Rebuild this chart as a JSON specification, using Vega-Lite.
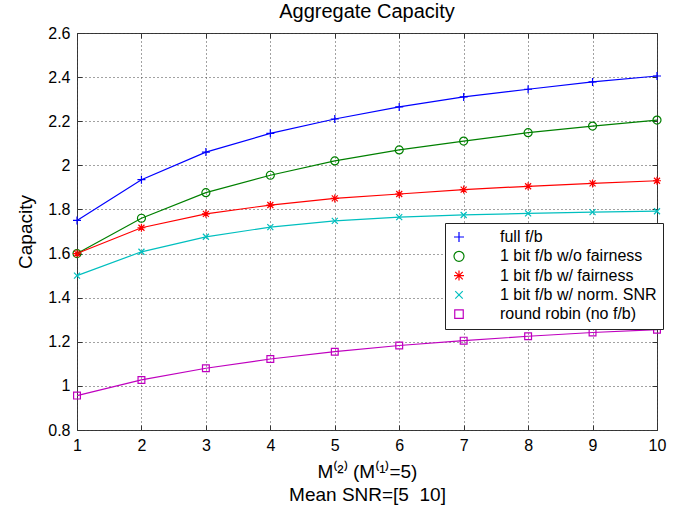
{
  "$schema": "https://vega.github.io/schema/vega-lite/v6.json",
  "width": 580,
  "height": 397,
  "autosize": {"type": "none"},
  "padding": {"left": 77, "top": 33, "right": 30, "bottom": 88},
  "background": "white",
  "title": {"text": "Aggregate Capacity", "font": "Liberation Sans", "fontSize": 20, "fontWeight": "normal", "color": "black", "anchor": "middle", "offset": 3},
  "config": {
    "view": {"stroke": "#333", "strokeWidth": 1},
    "axis": {"labelFont": "Liberation Sans", "labelFontSize": 16, "labelColor": "black", "titleFont": "Liberation Sans", "titleFontSize": 19, "titleFontWeight": "normal", "titleColor": "black", "domain": false, "tickColor": "#333", "tickSize": -5, "gridColor": "#444", "gridDash": [1, 3], "gridWidth": 1, "gridOpacity": 1}
  },
  "data": {"values": [
    {"x": 1, "y": 1.75, "s": "full f/b"}, {"x": 2, "y": 1.935, "s": "full f/b"}, {"x": 3, "y": 2.06, "s": "full f/b"}, {"x": 4, "y": 2.145, "s": "full f/b"}, {"x": 5, "y": 2.21, "s": "full f/b"}, {"x": 6, "y": 2.265, "s": "full f/b"}, {"x": 7, "y": 2.31, "s": "full f/b"}, {"x": 8, "y": 2.345, "s": "full f/b"}, {"x": 9, "y": 2.378, "s": "full f/b"}, {"x": 10, "y": 2.405, "s": "full f/b"},
    {"x": 1, "y": 1.6, "s": "1 bit f/b w/o fairness"}, {"x": 2, "y": 1.76, "s": "1 bit f/b w/o fairness"}, {"x": 3, "y": 1.876, "s": "1 bit f/b w/o fairness"}, {"x": 4, "y": 1.955, "s": "1 bit f/b w/o fairness"}, {"x": 5, "y": 2.02, "s": "1 bit f/b w/o fairness"}, {"x": 6, "y": 2.07, "s": "1 bit f/b w/o fairness"}, {"x": 7, "y": 2.11, "s": "1 bit f/b w/o fairness"}, {"x": 8, "y": 2.148, "s": "1 bit f/b w/o fairness"}, {"x": 9, "y": 2.178, "s": "1 bit f/b w/o fairness"}, {"x": 10, "y": 2.205, "s": "1 bit f/b w/o fairness"},
    {"x": 1, "y": 1.6, "s": "1 bit f/b w/ fairness"}, {"x": 2, "y": 1.717, "s": "1 bit f/b w/ fairness"}, {"x": 3, "y": 1.78, "s": "1 bit f/b w/ fairness"}, {"x": 4, "y": 1.82, "s": "1 bit f/b w/ fairness"}, {"x": 5, "y": 1.85, "s": "1 bit f/b w/ fairness"}, {"x": 6, "y": 1.87, "s": "1 bit f/b w/ fairness"}, {"x": 7, "y": 1.89, "s": "1 bit f/b w/ fairness"}, {"x": 8, "y": 1.905, "s": "1 bit f/b w/ fairness"}, {"x": 9, "y": 1.918, "s": "1 bit f/b w/ fairness"}, {"x": 10, "y": 1.93, "s": "1 bit f/b w/ fairness"},
    {"x": 1, "y": 1.5, "s": "1 bit f/b w/ norm. SNR"}, {"x": 2, "y": 1.608, "s": "1 bit f/b w/ norm. SNR"}, {"x": 3, "y": 1.676, "s": "1 bit f/b w/ norm. SNR"}, {"x": 4, "y": 1.72, "s": "1 bit f/b w/ norm. SNR"}, {"x": 5, "y": 1.748, "s": "1 bit f/b w/ norm. SNR"}, {"x": 6, "y": 1.765, "s": "1 bit f/b w/ norm. SNR"}, {"x": 7, "y": 1.775, "s": "1 bit f/b w/ norm. SNR"}, {"x": 8, "y": 1.782, "s": "1 bit f/b w/ norm. SNR"}, {"x": 9, "y": 1.788, "s": "1 bit f/b w/ norm. SNR"}, {"x": 10, "y": 1.792, "s": "1 bit f/b w/ norm. SNR"},
    {"x": 1, "y": 0.956, "s": "round robin (no f/b)"}, {"x": 2, "y": 1.027, "s": "round robin (no f/b)"}, {"x": 3, "y": 1.08, "s": "round robin (no f/b)"}, {"x": 4, "y": 1.122, "s": "round robin (no f/b)"}, {"x": 5, "y": 1.155, "s": "round robin (no f/b)"}, {"x": 6, "y": 1.183, "s": "round robin (no f/b)"}, {"x": 7, "y": 1.205, "s": "round robin (no f/b)"}, {"x": 8, "y": 1.225, "s": "round robin (no f/b)"}, {"x": 9, "y": 1.242, "s": "round robin (no f/b)"}, {"x": 10, "y": 1.255, "s": "round robin (no f/b)"}
  ]},
  "resolve": {"axis": {"x": "independent", "y": "independent"}},
  "layer": [
    {
      "mark": {"type": "point", "filled": false, "size": 64, "strokeWidth": 1.2, "opacity": 1},
      "encoding": {
        "x": {"field": "x", "type": "quantitative", "scale": {"domain": [1, 10], "nice": false, "zero": false},
              "axis": {"values": [1,2,3,4,5,6,7,8,9,10], "labelPadding": 12, "grid": true, "title": ["M⁽²⁾ (M⁽¹⁾=5)", "Mean SNR=[5\u00a0\u00a010]"], "titlePadding": 9, "titleLineHeight": 23, "labelFlush": false}},
        "y": {"field": "y", "type": "quantitative", "scale": {"domain": [0.8, 2.6], "nice": false, "zero": false},
              "axis": {"values": [0.8,1,1.2,1.4,1.6,1.8,2,2.2,2.4,2.6], "format": ".2~f", "labelPadding": 12, "grid": true, "title": "Capacity", "titlePadding": 12}},
        "color": {"field": "s", "type": "nominal",
                  "scale": {"domain": ["full f/b", "1 bit f/b w/o fairness", "1 bit f/b w/ fairness", "1 bit f/b w/ norm. SNR", "round robin (no f/b)"],
                            "range": ["#0000ff", "#008000", "#ff0000", "#00bfbf", "#bf00bf"]},
                  "legend": {"orient": "none", "legendX": 368, "legendY": 190, "title": null, "padding": 6, "strokeColor": "#222", "fillColor": "white", "cornerRadius": 0,
                             "labelFont": "Liberation Sans", "labelFontSize": 16, "labelColor": "black", "labelOffset": 33, "symbolSize": 100, "symbolStrokeWidth": 1.2, "rowPadding": 3.3, "labelLimit": 400}},
        "shape": {"field": "s", "type": "nominal", "legend": null,
                  "scale": {"domain": ["full f/b", "1 bit f/b w/o fairness", "1 bit f/b w/ fairness", "1 bit f/b w/ norm. SNR", "round robin (no f/b)"],
                            "range": ["M-1,0H1M0,-1V1", "circle", "M-1,0H1M0,-1V1M-0.75,-0.75L0.75,0.75M-0.75,0.75L0.75,-0.75", "M-0.75,-0.75L0.75,0.75M-0.75,0.75L0.75,-0.75", "M-0.85,-0.85H0.85V0.85H-0.85Z"]}}
      }
    },
    {
      "mark": {"type": "line", "strokeWidth": 1.2},
      "encoding": {
        "x": {"field": "x", "type": "quantitative", "axis": null},
        "y": {"field": "y", "type": "quantitative", "axis": null},
        "color": {"field": "s", "type": "nominal"}
      }
    },
    {
      "mark": {"type": "point", "opacity": 0},
      "encoding": {
        "x": {"field": "x", "type": "quantitative", "axis": {"orient": "top", "values": [1,2,3,4,5,6,7,8,9,10], "labels": false, "title": null, "grid": false}},
        "y": {"field": "y", "type": "quantitative", "axis": {"orient": "right", "values": [0.8,1,1.2,1.4,1.6,1.8,2,2.2,2.4,2.6], "labels": false, "title": null, "grid": false}}
      }
    }
  ]
}
